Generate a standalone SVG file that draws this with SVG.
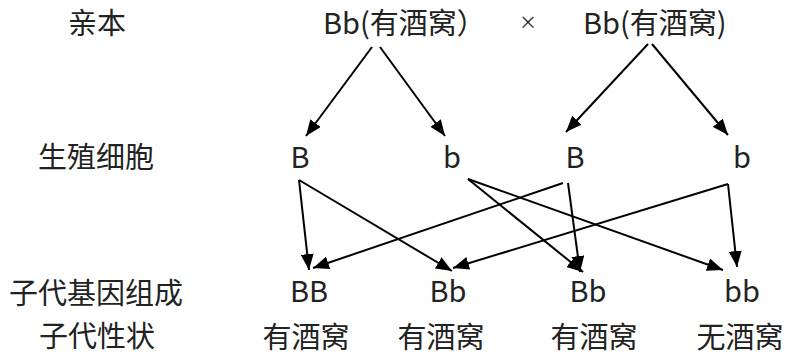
<svg xmlns="http://www.w3.org/2000/svg" width="787" height="356" viewBox="0 0 787 356">
<style>
text{font-family:"Noto Sans CJK SC","Noto Sans",sans-serif;font-size:29px;fill:#222;}
.m{text-anchor:middle;}
.c line{stroke:#000;stroke-width:2;marker-end:url(#ah);}
</style>
<defs>
<marker id="ah" markerUnits="userSpaceOnUse" markerWidth="16" markerHeight="13" refX="16" refY="6.5" orient="auto">
<path d="M0,0 L16,6.5 L0,13 z" fill="#000"/>
</marker>
</defs>
<rect width="787" height="356" fill="#fff"/>
<g id="row-labels">
<text id="lbl-parent" class="m" x="97" y="34">亲本</text>
<text id="lbl-gamete" class="m" x="96" y="168">生殖细胞</text>
<text id="lbl-genotype" class="m" x="96" y="304">子代基因组成</text>
<text id="lbl-phenotype" class="m" x="97" y="347">子代性状</text>
</g>
<g id="parent1"><text x="323" y="34">Bb(有酒窝）</text></g>
<g id="cross"><text class="m" x="528" y="29" style="font-size:18px">×</text></g>
<g id="parent2"><text x="583" y="34">Bb(有酒窝)</text></g>
<g id="gamete-B1"><text class="m" x="300" y="168">B</text></g>
<g id="gamete-b1"><text class="m" x="452" y="168">b</text></g>
<g id="gamete-B2"><text class="m" x="575" y="168">B</text></g>
<g id="gamete-b2"><text class="m" x="742" y="168">b</text></g>
<g id="child-BB"><text class="m" x="309" y="302">BB</text><text class="m" x="306" y="348">有酒窝</text></g>
<g id="child-Bb1"><text class="m" x="448" y="302">Bb</text><text class="m" x="441" y="348">有酒窝</text></g>
<g id="child-Bb2"><text class="m" x="588" y="302">Bb</text><text class="m" x="594" y="348">有酒窝</text></g>
<g id="child-bb"><text class="m" x="742" y="302">bb</text><text class="m" x="740" y="348">无酒窝</text></g>
<g id="connectors" class="c">
<line x1="372" y1="47" x2="306" y2="136"/>
<line x1="380" y1="47" x2="445" y2="136"/>
<line x1="648" y1="44" x2="566" y2="132"/>
<line x1="652" y1="44" x2="728" y2="135"/>
<line x1="299" y1="180" x2="309" y2="270"/>
<line x1="299" y1="180" x2="452" y2="271"/>
<line x1="468" y1="179" x2="583" y2="272"/>
<line x1="468" y1="179" x2="723" y2="270"/>
<line x1="563" y1="183" x2="313" y2="268"/>
<line x1="568" y1="183" x2="580" y2="272"/>
<line x1="728" y1="184" x2="737" y2="267"/>
<line x1="728" y1="184" x2="453" y2="268"/>
</g>
</svg>
